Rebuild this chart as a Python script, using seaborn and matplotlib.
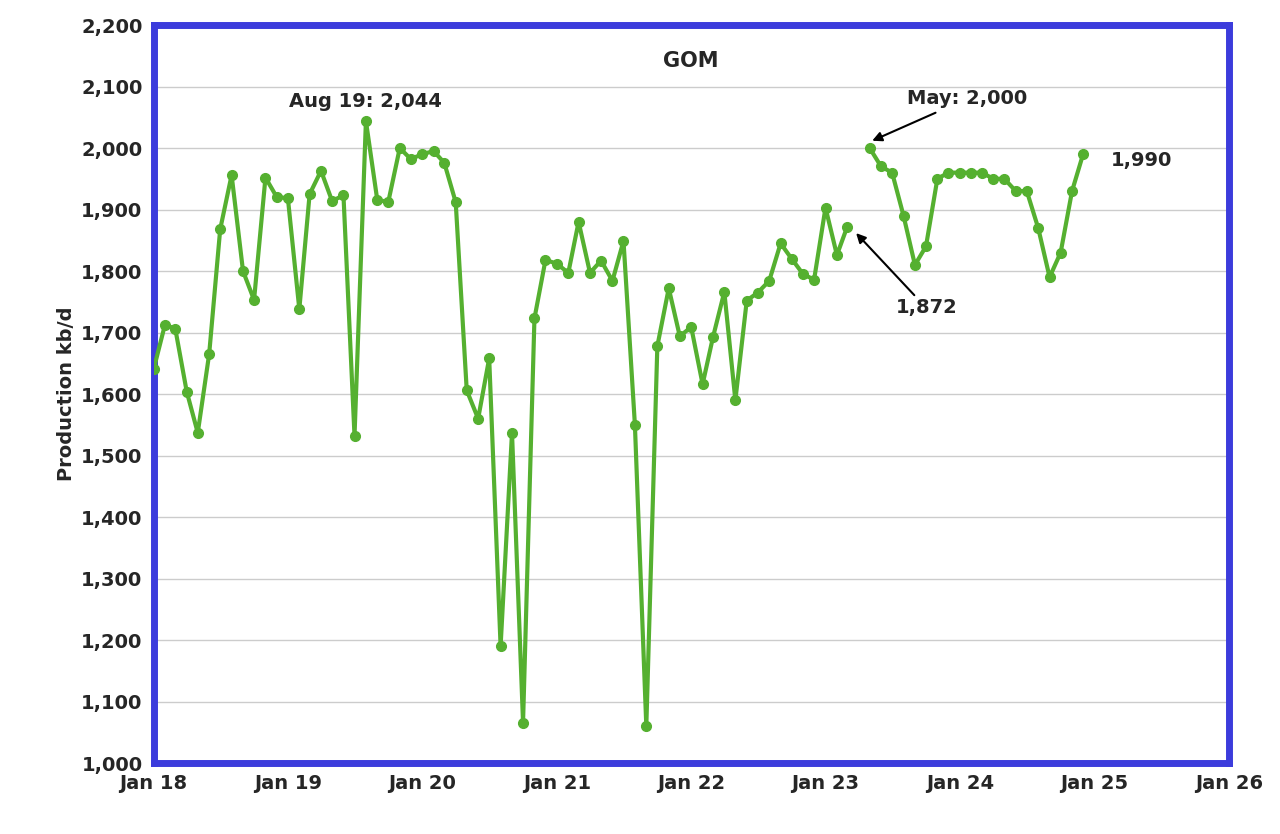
import matplotlib.pyplot as plt
import seaborn as sns
import pandas as pd
import numpy as np

# Monthly GOM production, Jan 2018 - Dec 2024 (kb/d); Apr 2023 missing
production = [
    1640, 1713, 1706, 1604, 1537, 1665, 1868, 1956, 1800, 1753, 1952, 1921,
    1918, 1738, 1925, 1963, 1914, 1923, 1532, 2044, 1915, 1913, 2000, 1982,
    1990, 1995, 1976, 1912, 1606, 1560, 1658, 1190, 1537, 1066, 1723, 1818,
    1812, 1797, 1880, 1797, 1817, 1784, 1849, 1550, 1060, 1678, 1772, 1694,
    1709, 1616, 1692, 1766, 1590, 1752, 1765, 1784, 1845, 1820, 1795, 1786,
    1903, 1826, 1872, np.nan, 2000, 1970, 1960, 1890, 1810, 1840, 1950, 1960,
    1960, 1960, 1960, 1950, 1950, 1930, 1930, 1870, 1790, 1830, 1930, 1990,
]
dates = pd.date_range("2018-01-01", periods=len(production), freq="MS")
tick_years = list(range(2018, 2027))
tick_labels = [f"Jan {y % 100:02d}" for y in tick_years]

df = pd.DataFrame({"date": dates, "prod": production})

sns.set_style("white")
fig, ax = plt.subplots(figsize=(12.8, 8.34), dpi=100)
fig.subplots_adjust(left=0.12, right=0.96, top=0.97, bottom=0.085)

green = "#55b030"
ax.plot(df["date"], df["prod"], color=green, lw=3, marker="o", ms=7, zorder=3)

ax.set_xlim(pd.Timestamp("2018-01-01"), pd.Timestamp("2026-01-01"))
ax.set_ylim(1000, 2200)
ax.set_xticks([pd.Timestamp(f"{y}-01-01") for y in tick_years])
ax.set_xticklabels(tick_labels, fontsize=14, fontweight="bold")
ax.set_yticks(range(1000, 2201, 100))
ax.set_yticklabels([f"{v:,}" for v in range(1000, 2201, 100)], fontsize=14, fontweight="bold")
ax.yaxis.grid(True, color="#cccccc", lw=1)
ax.set_ylabel("Production kb/d", fontsize=14, fontweight="bold")
for s in ax.spines.values():
    s.set_color("#3c3cdc")
    s.set_linewidth(5)
ax.tick_params(length=0, pad=8)

ax.text(0.5, 0.965, "GOM", transform=ax.transAxes, ha="center", va="top",
        fontsize=15, fontweight="bold")
ax.text(pd.Timestamp("2019-08-01"), 2060, "Aug 19: 2,044", ha="center", va="bottom",
        fontsize=14, fontweight="bold")
ax.annotate("May: 2,000", xy=(pd.Timestamp("2023-05-01"), 2010),
            xytext=(pd.Timestamp("2023-08-10"), 2080), fontsize=14, fontweight="bold",
            va="center", arrowprops=dict(arrowstyle="-|>", color="black", lw=1.5))
ax.annotate("1,872", xy=(pd.Timestamp("2023-03-20"), 1865),
            xytext=(pd.Timestamp("2023-07-10"), 1740), fontsize=14, fontweight="bold",
            va="center", arrowprops=dict(arrowstyle="-|>", color="black", lw=1.5,
                                         shrinkA=0))
ax.text(pd.Timestamp("2025-02-15"), 1980, "1,990", ha="left", va="center",
        fontsize=14, fontweight="bold")

plt.savefig("out.png")
